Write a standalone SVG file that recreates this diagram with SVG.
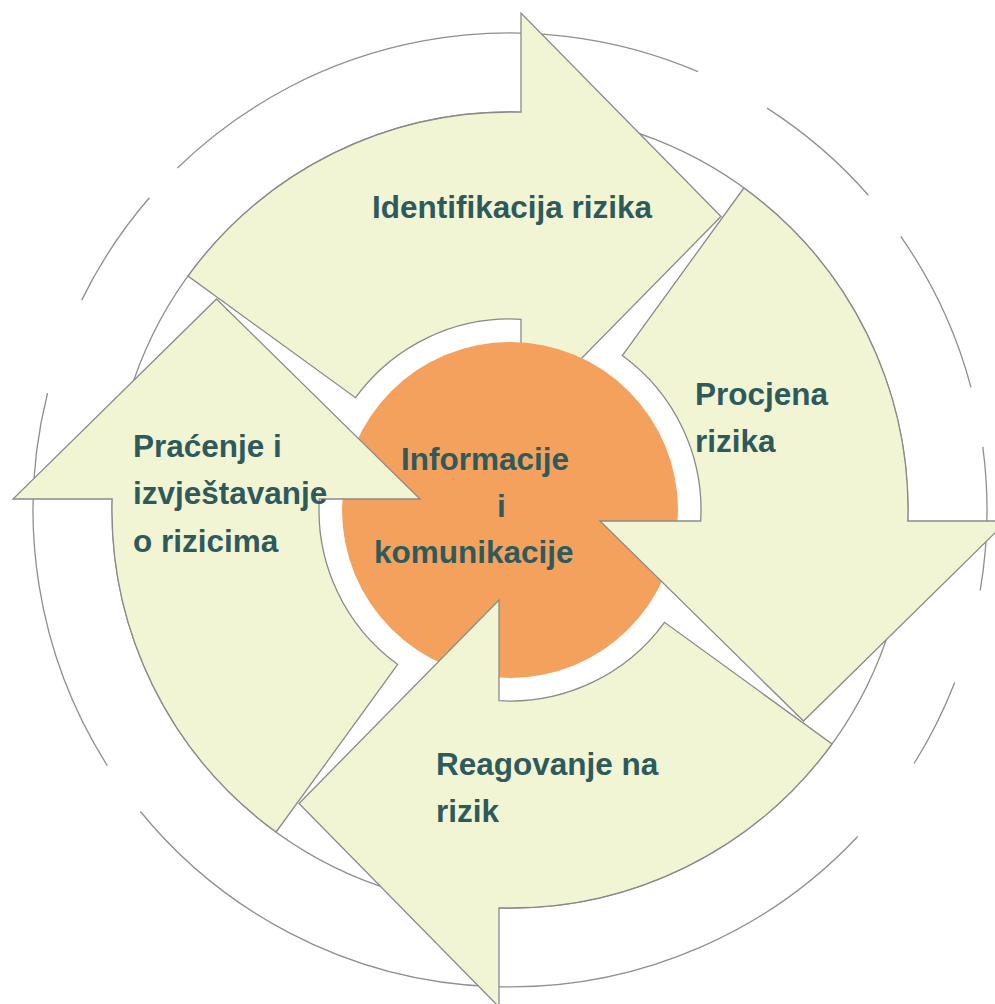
<svg xmlns="http://www.w3.org/2000/svg" xmlns:xlink="http://www.w3.org/1999/xlink" width="995" height="1004" viewBox="0 0 995 1004">
<defs>
<style>
.arrow{fill:#f2f5d4;stroke:#8a8a8a;stroke-width:1.3;stroke-linejoin:miter}
.ring{fill:none;stroke:#8f8f8f;stroke-width:1.3}
.lbl{font-family:"Liberation Sans",Arial,Helvetica,sans-serif;font-weight:bold;font-size:31.5px;fill:#2e5a5c}
</style>
<path id="arrowShape" d="M188.0,276.1 A398,398 0 0 1 521,112.15 L521,13 L721,216.5 L521,420 L521,319.3 A191,191 0 0 0 355.5,397.7 Z"/>
</defs>
<rect width="995" height="1004" fill="#ffffff"/>
<g id="cycle-ring" class="ring">
<circle cx="510" cy="510" r="398"/>
<path d="M177.4,168.0 A477,477 0 0 1 697.9,71.6"/>
<path d="M81.7,300.1 A477,477 0 0 1 149.4,197.7"/>
<path d="M107.3,765.6 A477,477 0 0 1 47.6,393.0"/>
<path d="M857.7,836.5 A477,477 0 0 1 140.4,811.5"/>
<path d="M954.7,682.5 A477,477 0 0 1 914.1,763.5"/>
<path d="M982.8,446.9 A477,477 0 0 1 980.2,590.4"/>
<path d="M900.7,236.4 A477,477 0 0 1 971.0,387.4"/>
<path d="M767.0,108.1 A477,477 0 0 1 868.4,195.2"/>
</g>
<g id="node-identifikacija">
<use xlink:href="#arrowShape" class="arrow"/>
<text class="lbl" x="372" y="218">Identifikacija rizika</text>
</g>
<g id="node-center">
<circle cx="510" cy="510" r="168" fill="#f4a15e"/>
<text class="lbl" x="401" y="470">Informacije</text>
<text class="lbl" x="497" y="517">i</text>
<text class="lbl" x="374" y="563">komunikacije</text>
</g>
<g id="node-procjena">
<use xlink:href="#arrowShape" class="arrow" transform="rotate(90 510 510)"/>
<text class="lbl" x="695" y="405">Procjena</text>
<text class="lbl" x="695" y="452">rizika</text>
</g>
<g id="node-reagovanje">
<use xlink:href="#arrowShape" class="arrow" transform="rotate(180 510 510)"/>
<text class="lbl" x="436" y="775">Reagovanje na</text>
<text class="lbl" x="436" y="822">rizik</text>
</g>
<g id="node-pracenje">
<use xlink:href="#arrowShape" class="arrow" transform="rotate(270 510 510)"/>
<text class="lbl" x="133" y="457">Praćenje i</text>
<text class="lbl" x="133" y="504">izvještavanje</text>
<text class="lbl" x="133" y="552">o rizicima</text>
</g>
</svg>
